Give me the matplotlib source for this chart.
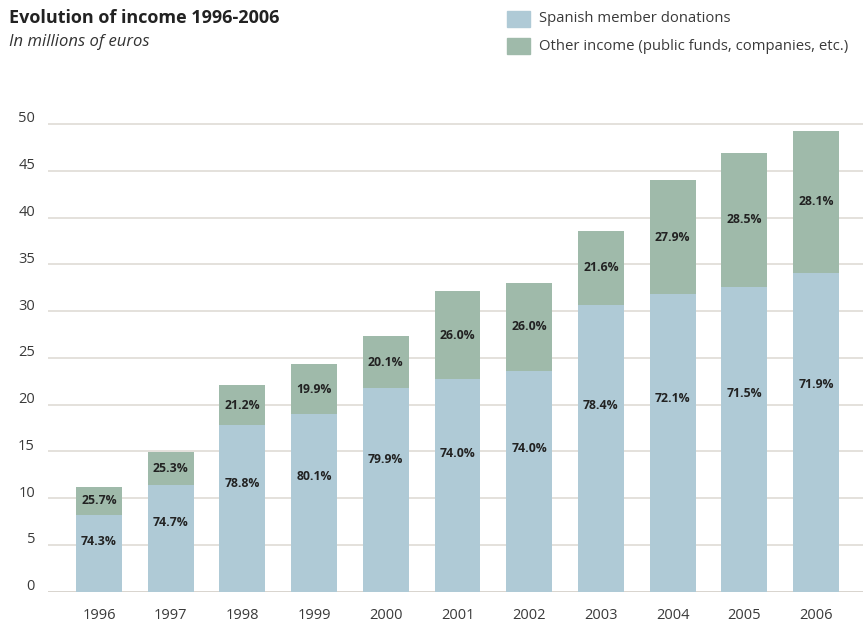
import matplotlib
matplotlib.use("Agg")
import matplotlib.pyplot as plt
from matplotlib import transforms
from matplotlib.patches import Rectangle

plt.rcParams['font.family'] = ['Open Sans', 'DejaVu Sans']

years = ['1996', '1997', '1998', '1999', '2000', '2001', '2002', '2003', '2004', '2005', '2006']
donations = [8.2, 11.4, 17.8, 19.0, 21.8, 22.7, 23.6, 30.7, 31.8, 32.6, 34.1]
totals = [11.2, 14.9, 22.1, 24.3, 27.3, 32.1, 33.0, 38.6, 44.0, 46.9, 49.3]
pct_donations = ['74.3%', '74.7%', '78.8%', '80.1%', '79.9%', '74.0%', '74.0%', '78.4%', '72.1%', '71.5%', '71.9%']
pct_other = ['25.7%', '25.3%', '21.2%', '19.9%', '20.1%', '26.0%', '26.0%', '21.6%', '27.9%', '28.5%', '28.1%']
other = [t - d for t, d in zip(totals, donations)]
yticks = [0, 5, 10, 15, 20, 25, 30, 35, 40, 45, 50]

BLUE = '#afcad6'
GREEN = '#9fbaaa'
TEXT = '#3a3a3a'
GRID = '#dcd8d2'

W, H = 863, 626
fig = plt.figure(figsize=(W / 100, H / 100), dpi=100)
ax = fig.add_axes([48 / W, 1 - 591.7 / H, 1 - 48 / W, (591.7 - 119.3) / H])

x = list(range(len(years)))
ax.bar(x, donations, width=0.64, color=BLUE, zorder=2)
ax.bar(x, other, width=0.64, bottom=donations, color=GREEN, zorder=2)

for i in x:
    ax.text(i, donations[i] * 0.65, pct_donations[i], ha='center', va='center',
            fontsize=8.8, fontweight='bold', color='#222222', zorder=3)
    ax.text(i, donations[i] + other[i] / 2, pct_other[i], ha='center', va='center',
            fontsize=8.8, fontweight='bold', color='#222222', zorder=3)

ax.set_xlim(-0.711, 10.655)
ax.set_ylim(0, 50.5)
ax.set_yticks(yticks)
ax.yaxis.grid(True, color=GRID, linewidth=1.1, zorder=0)
ax.set_axisbelow(True)
for s in ax.spines.values():
    s.set_visible(False)
ax.axhline(0, color='#d6d2cb', linewidth=1.8, zorder=1)
ax.tick_params(axis='y', length=0, labelleft=False)
ax.set_xticks(x)
ax.set_xticklabels(years)
ax.tick_params(axis='x', length=0, pad=11.5, labelsize=10.5, labelcolor=TEXT)

tr = transforms.offset_copy(ax.get_yaxis_transform(), fig=fig, x=-13, y=5, units='dots')
for v in yticks:
    ax.text(0, v, str(v), transform=tr, ha='right', va='center', fontsize=10.5, color=TEXT)

# Title and subtitle
fig.text(9 / W, 1 - 18 / H, 'Evolution of income 1996-2006', fontsize=13, fontweight='bold',
         color='#222222', ha='left', va='center')
fig.text(9 / W, 1 - 42 / H, 'In millions of euros', fontsize=12, fontstyle='italic',
         color='#333333', ha='left', va='center')

# Legend
for yy, col, lab in [(11, BLUE, 'Spanish member donations'),
                     (38, GREEN, 'Other income (public funds, companies, etc.)')]:
    fig.patches.append(Rectangle((507 / W, 1 - (yy + 16) / H), 23 / W, 16 / H,
                                 transform=fig.transFigure, color=col))
    fig.text(539 / W, 1 - (yy + 8) / H, lab, fontsize=10.7, color=TEXT, ha='left', va='center')

fig.savefig('out.png', dpi=100)
